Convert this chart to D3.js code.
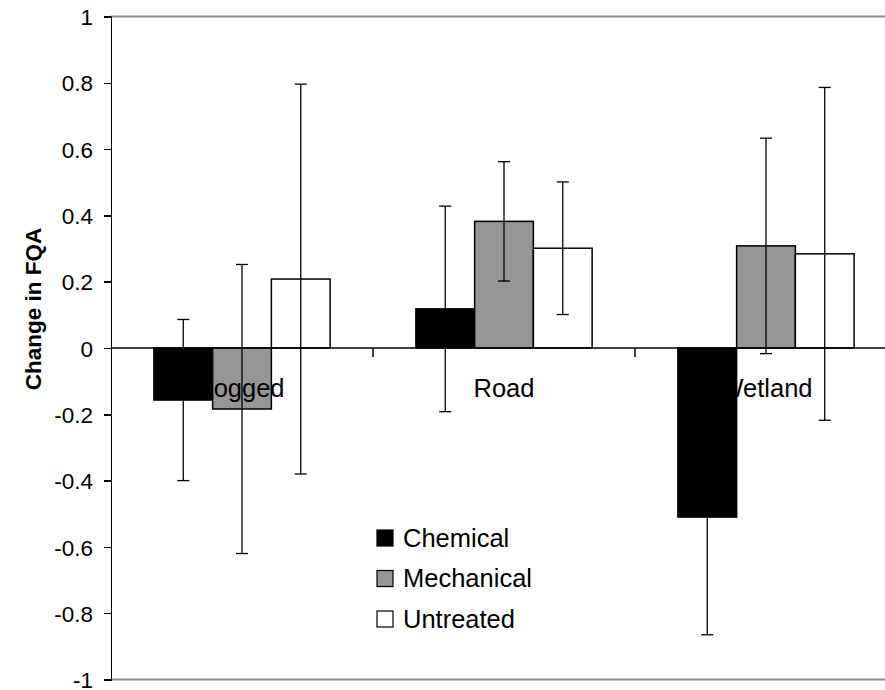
<!DOCTYPE html>
<html lang="en">
<head>
<meta charset="UTF-8">
<title>Change in FQA</title>
<script src="https://d3js.org/d3.v7.min.js"></script>
<style>
  body { margin: 0; background: #fff; font-family: Arial, "Liberation Sans", sans-serif; }
  .axis path, .axis line { stroke: #000; stroke-width: 1.5; shape-rendering: crispEdges; }
  .axis text { font-size: 22.5px; fill: #000; font-family: Arial, "Liberation Sans", sans-serif; }
</style>
</head>
<body>
<script>
var categories = ["Logged", "Road", "Wetland"];
var series = ["Chemical", "Mechanical", "Untreated"];
var seriesColors = ["#000000", "#969696", "#ffffff"];
// mean change per series, one value per category
var chemical   = [-0.157, 0.118, -0.51];
var mechanical = [-0.184, 0.382, 0.308];
var untreated  = [0.208, 0.301, 0.284];
// error bar half widths
var chemicalErr   = [0.243, 0.31, 0.355];
var mechanicalErr = [0.436, 0.18, 0.325];
var untreatedErr  = [0.588, 0.2, 0.502];
var tickValues = [-1, -0.8, -0.6, -0.4, -0.2, 0, 0.2, 0.4, 0.6, 0.8, 1];
var tickLabels = ["-1", "-0.8", "-0.6", "-0.4", "-0.2", "0", "0.2", "0.4", "0.6", "0.8", "1"];

var values = [chemical, mechanical, untreated];
var errors = [chemicalErr, mechanicalErr, untreatedErr];

var W = 885, H = 690;
var plotLeft = 111, plotRight = 897, plotTop = 16.5, plotBottom = 679.5;

var svg = d3.select("body").append("svg")
  .attr("width", W).attr("height", H);

var x = d3.scaleBand().domain(categories).range([plotLeft, plotRight]).padding(0);
var xs = d3.scaleBand().domain(series).range([0, x.bandwidth()])
  .paddingInner(0).paddingOuter(0.73);
var y = d3.scaleLinear().domain([-1, 1]).range([plotBottom, plotTop]);

// gray frame lines (top / bottom)
svg.append("line").attr("x1", plotLeft).attr("x2", W).attr("y1", y(1)).attr("y2", y(1))
  .attr("stroke", "#8c8c8c").attr("stroke-width", 2);
svg.append("line").attr("x1", plotLeft).attr("x2", W).attr("y1", y(-1)).attr("y2", y(-1))
  .attr("stroke", "#8c8c8c").attr("stroke-width", 2);

// y axis
var yAxis = d3.axisLeft(y).tickValues(tickValues).tickSize(7).tickPadding(11)
  .tickFormat(function(d, i) { return tickLabels[i]; });
svg.append("g").attr("class", "axis")
  .attr("transform", "translate(" + plotLeft + ",0)")
  .call(yAxis)
  .call(function(g) { g.selectAll("text").attr("dy", "0.36em"); });

// rows of bar data
var rows = [];
series.forEach(function(s, si) {
  categories.forEach(function(c, ci) {
    rows.push({ s: s, si: si, c: c, v: values[si][ci], e: errors[si][ci] });
  });
});

// bars
svg.append("g").selectAll("rect").data(rows).enter().append("rect")
  .attr("x", function(d) { return x(d.c) + xs(d.s); })
  .attr("width", xs.bandwidth())
  .attr("y", function(d) { return y(Math.max(0, d.v)); })
  .attr("height", function(d) { return Math.abs(y(d.v) - y(0)); })
  .attr("fill", function(d) { return seriesColors[d.si]; })
  .attr("stroke", "#000").attr("stroke-width", 1.5);

// zero line with category ticks
svg.append("line").attr("x1", plotLeft).attr("x2", W).attr("y1", y(0)).attr("y2", y(0))
  .attr("stroke", "#000").attr("stroke-width", 1.5);
svg.append("g").selectAll("line").data(categories.slice(1)).enter().append("line")
  .attr("x1", function(d) { return x(d); }).attr("x2", function(d) { return x(d); })
  .attr("y1", y(0)).attr("y2", y(0) + 9)
  .attr("stroke", "#000").attr("stroke-width", 1.5);

// category labels
svg.append("g").selectAll("text").data(categories).enter().append("text")
  .attr("x", function(d) { return x(d) + x.bandwidth() / 2; })
  .attr("y", 396.5)
  .attr("text-anchor", "middle")
  .style("font-size", "25.5px")
  .text(function(d) { return d; });

// error bars
var eb = svg.append("g").attr("stroke", "#000").attr("stroke-width", 1.3);
rows.forEach(function(d) {
  var cx = x(d.c) + xs(d.s) + xs.bandwidth() / 2;
  var hi = y(d.v + d.e), lo = y(d.v - d.e);
  eb.append("line").attr("x1", cx).attr("x2", cx).attr("y1", hi).attr("y2", lo);
  eb.append("line").attr("x1", cx - 6).attr("x2", cx + 6).attr("y1", hi).attr("y2", hi);
  eb.append("line").attr("x1", cx - 6).attr("x2", cx + 6).attr("y1", lo).attr("y2", lo);
});

// y axis title
svg.append("text")
  .attr("transform", "translate(41,309) rotate(-90)")
  .attr("text-anchor", "middle")
  .style("font-size", "22.5px").style("font-weight", "bold")
  .text("Change in FQA");

// legend
var legend = svg.append("g").attr("transform", "translate(377,530)");
series.forEach(function(s, i) {
  var g = legend.append("g").attr("transform", "translate(0," + (i * 40.5) + ")");
  g.append("rect").attr("width", 16).attr("height", 16)
    .attr("fill", seriesColors[i]).attr("stroke", "#000").attr("stroke-width", 1.2);
  g.append("text").attr("x", 26).attr("y", 16.5)
    .style("font-size", "25.5px").text(s);
});
</script>
</body>
</html>
